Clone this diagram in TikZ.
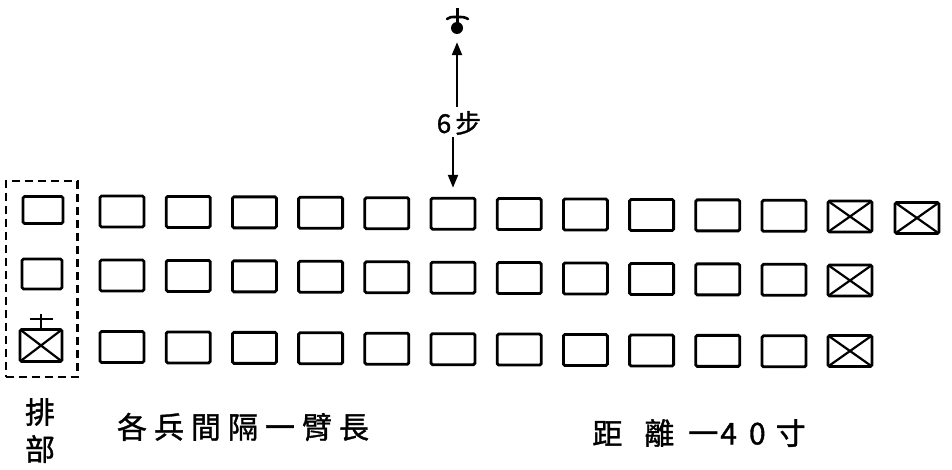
\documentclass[tikz,border=0pt]{standalone}
\usepackage{fontspec}
\newfontfamily\cjk[FakeBold=1.2]{Noto Sans CJK TC}
\usetikzlibrary{arrows.meta,fit}
\begin{document}
\begin{tikzpicture}[x=1pt,y=-1pt,
  soldier/.style={draw, line width=2.8pt, minimum width=44pt, minimum height=31pt, inner sep=0pt, rounded corners=1.5pt},
  chief/.style={soldier, path picture={\draw[line width=2.2pt] (path picture bounding box.north west)--(path picture bounding box.south east) (path picture bounding box.north east)--(path picture bounding box.south west);}},
  lbl/.style={font=\cjk\fontsize{30}{32}\selectfont, inner sep=0pt},
  arr/.style={line width=2.2pt, -{Triangle[length=13pt,width=10pt]}}
]
\useasboundingbox (0,0) rectangle (952,470);

% main ranks
\foreach \i in {1,...,11} {
  \pgfmathsetmacro\xx{122+(\i-1)*66.2}
  \node[soldier] (a\i) at (\xx,{211.5+0.0065*(\xx-122)}) {};
  \node[soldier] (b\i) at (\xx,{275.5+0.0065*(\xx-122)}) {};
  \node[soldier] (c\i) at (\xx,{347+0.0065*(\xx-122)}) {};
}
\node[chief] (a12) at (850,216.5) {};
\node[chief] (a13) at (917,218) {};
\node[chief] (b12) at (850,280.5) {};
\node[chief] (c12) at (850,351) {};

% left column (platoon headquarters)
\node[soldier, minimum width=40pt, minimum height=27pt] (l1) at (43,210) {};
\node[soldier, minimum width=40pt, minimum height=30pt] (l2) at (42,274) {};
\node[chief, minimum width=42pt, minimum height=32pt] (l3) at (41,345.5) {};
\draw[line width=1.5pt] (l3.north) -- ++(0,-14);
\draw[line width=1.5pt] ([yshift=9pt]l3.north) ++(-11,0) -- ++(23,0);
\node[draw, dash pattern=on 8pt off 5pt, line width=2.2pt, inner xsep=13pt, inner ysep=14pt, fit=(l1)(l3)] (hq) {};

% leader in front
\node[circle, fill, minimum size=12pt, inner sep=0pt] (sym) at (457,28) {};
\draw[line width=3pt] (sym.center) -- ++(0,-20);
\draw[line width=2.6pt, line cap=round] ([yshift=11pt]sym.center) ++(-10,2) .. controls +(3,-2) .. ++(10,-2) .. controls +(7,0) .. ++(11,2);

\node[lbl, font=\cjk\fontsize{26}{28}\selectfont] (step6) at (459,123) {6\hspace{4pt}步};
\draw[arr, shorten <=4pt, shorten >=8pt] (step6.north -| sym.south) -- (sym.south);
\draw[arr, shorten <=2pt, shorten >=9pt] (step6.south -| a6.north) -- (a6.north);

% captions
\node[lbl] (pai) at (40,412) {排};
\node[lbl] (bu) at (40,449) {部};
\node[lbl] (gap) at (243,427) {各\hspace{7pt}兵\hspace{7pt}間\hspace{7pt}隔\hspace{7pt}一\hspace{7pt}臂\hspace{7pt}長};
\node[lbl] (dist) at (699,433) {距\hspace{22pt}離\hspace{14pt}一\hspace{2pt}4\hspace{12pt}0\hspace{10pt}寸};
\end{tikzpicture}
\end{document}
